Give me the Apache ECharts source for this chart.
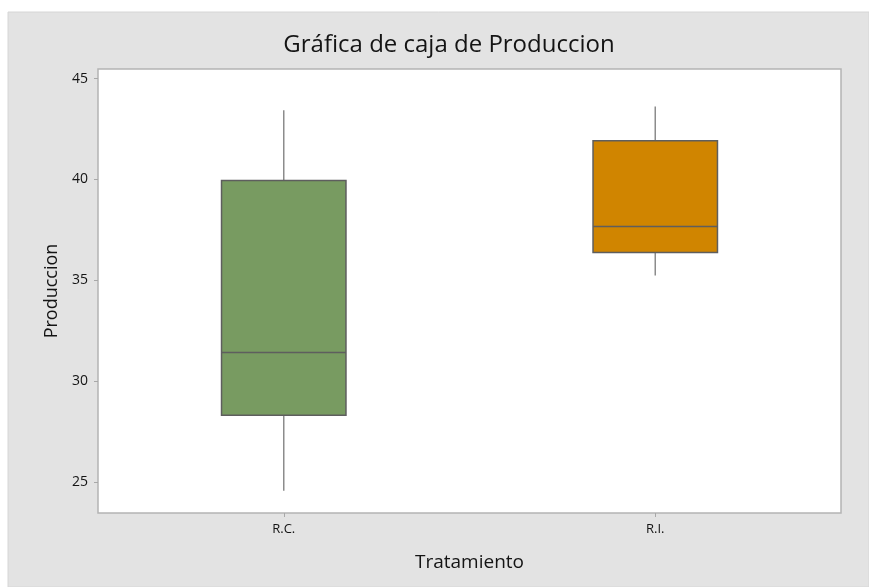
<!DOCTYPE html>
<html>
<head>
<meta charset="utf-8">
<script src="https://cdn.jsdelivr.net/npm/echarts@6/dist/echarts.min.js"></script>
<style>
  html, body { margin: 0; padding: 0; background: #ffffff; }
  #chart { width: 869px; height: 587px; }
</style>
</head>
<body>
<div id="chart"></div>
<script>
// Five-number summaries per treatment
const categories = ['R.C.', 'R.I.'];
const minVals    = [24.55, 35.23];
const q1Vals     = [28.30, 36.37];
const medianVals = [31.41, 37.66];
const q3Vals     = [39.95, 41.92];
const maxVals    = [43.43, 43.62];
const boxColors  = ['#789b61', '#d08500'];
const yTicks     = [25, 30, 35, 40, 45];

const boxData = categories.map((c, i) => [i, minVals[i], q1Vals[i], medianVals[i], q3Vals[i], maxVals[i]]);

function renderBox(params, api) {
  const idx = api.value(0);
  const pMin = api.coord([idx, api.value(1)]);
  const pQ1 = api.coord([idx, api.value(2)]);
  const pMed = api.coord([idx, api.value(3)]);
  const pQ3 = api.coord([idx, api.value(4)]);
  const pMax = api.coord([idx, api.value(5)]);
  const half = api.size([1, 0])[0] * 0.335 / 2;
  const x = pQ1[0];
  const whisker = { stroke: '#8c8c8c', lineWidth: 1.5 };
  const edge = '#5e5e5e';
  return {
    type: 'group',
    children: [
      { type: 'line', shape: { x1: x, y1: pQ3[1], x2: x, y2: pMax[1] }, style: whisker },
      { type: 'line', shape: { x1: x, y1: pQ1[1], x2: x, y2: pMin[1] }, style: whisker },
      { type: 'rect', shape: { x: x - half, y: pQ3[1], width: half * 2, height: pQ1[1] - pQ3[1] },
        style: { fill: boxColors[idx], stroke: edge, lineWidth: 1.5 } },
      { type: 'line', shape: { x1: x - half, y1: pMed[1], x2: x + half, y2: pMed[1] },
        style: { stroke: edge, lineWidth: 1.5 } }
    ]
  };
}

const chart = echarts.init(document.getElementById('chart'), null, { renderer: 'canvas' });
chart.setOption({
  backgroundColor: '#ffffff',
  animation: false,
  textStyle: { fontFamily: 'Open Sans' },
  graphic: [{
    type: 'rect', z: -10, silent: true,
    shape: { x: 8, y: 12, width: 861, height: 575 },
    style: { fill: '#e3e3e3', stroke: '#d6d6d6', lineWidth: 1 }
  }],
  title: {
    text: 'Gráfica de caja de Produccion',
    left: 444, top: 28, textAlign: 'center',
    textStyle: { fontFamily: 'Open Sans', fontSize: 24, fontWeight: 'normal', color: '#141414' }
  },
  grid: {
    left: 98, top: 69, right: 28, bottom: 74,
    show: true, backgroundColor: '#ffffff', borderColor: '#b4b4b4', borderWidth: 1.5
  },
  xAxis: {
    type: 'category',
    data: categories,
    boundaryGap: true,
    name: 'Tratamiento',
    nameLocation: 'middle',
    nameGap: 40,
    nameTextStyle: { fontFamily: 'Open Sans', fontSize: 19, color: '#141414' },
    axisLine: { show: false },
    axisTick: { show: true, alignWithLabel: true, length: 4, lineStyle: { color: '#a8a8a8' } },
    axisLabel: { fontFamily: 'Open Sans', fontSize: 13, color: '#141414', margin: 10 },
    splitLine: { show: false }
  },
  yAxis: {
    type: 'value',
    min: 23.45,
    max: 45.48,
    name: 'Produccion',
    nameLocation: 'middle',
    nameGap: 37,
    nameTextStyle: { fontFamily: 'Open Sans', fontSize: 18, color: '#141414' },
    axisLine: { show: false },
    axisTick: { show: true, length: 4, customValues: yTicks, lineStyle: { color: '#a8a8a8' } },
    axisLabel: { fontFamily: 'Open Sans', fontSize: 14, color: '#141414', margin: 10, customValues: yTicks },
    splitLine: { show: false }
  },
  series: [{
    type: 'custom',
    renderItem: renderBox,
    encode: { x: 0, y: [1, 2, 3, 4, 5] },
    data: boxData
  }]
});
</script>
</body>
</html>
